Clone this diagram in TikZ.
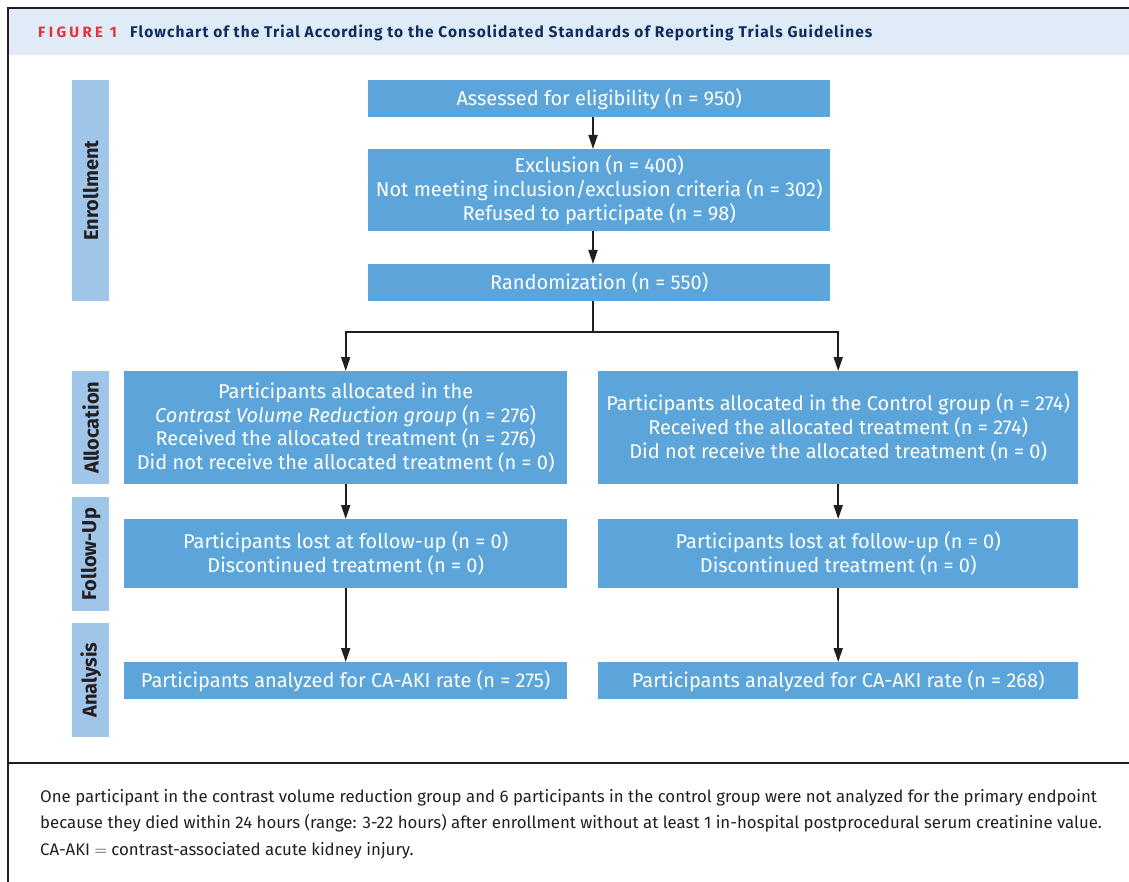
\documentclass[tikz,border=0pt]{standalone}
\usepackage{fontspec}
\setmainfont{Fira Sans}
\usetikzlibrary{arrows.meta}
\definecolor{boxblue}{HTML}{5BA5DA}
\definecolor{sideblue}{HTML}{9FC5E8}
\definecolor{headblue}{HTML}{DFEBF6}
\definecolor{navy}{HTML}{0E2D5E}
\definecolor{figred}{HTML}{E8303A}
\definecolor{ink}{HTML}{231F20}
\tikzset{
  box/.style={fill=boxblue, text=white, inner sep=0pt, anchor=north west, align=center,
    font=\fontsize{20}{23.8}\selectfont},
  side/.style={fill=sideblue, inner sep=0pt, anchor=north west, minimum width=37},
  sidetext/.style={rotate=90, text=ink, font=\fontsize{20}{22}\selectfont\bfseries},
  arr/.style={draw=ink, line width=1.8pt, -{Triangle[length=14pt,width=9pt]}},
  conn/.style={draw=ink, line width=1.8pt},
  frame/.style={draw=ink, line width=2pt},
  notetext/.style={anchor=base west, inner sep=0, text=ink, font=\fontsize{16.8}{20}\selectfont}
}
\begin{document}
\begin{tikzpicture}[x=1pt,y=-1pt]
\useasboundingbox (0,0) rectangle (1129,882);
% header
\fill[headblue] (9,9) rectangle (1129,55);
\draw[frame] (1135,8) -- (8,8) -- (8,890);
\draw[frame] (8,763) -- (1135,763);
\node[anchor=base west, inner sep=0, text=figred, font=\fontsize{15}{17}\selectfont\bfseries\addfontfeatures{LetterSpace=22}] (fig) at (38,38) {FIGURE 1};
\node[anchor=base west, inner sep=0, text=navy, font=\fontsize{15.5}{18}\selectfont\bfseries\addfontfeatures{LetterSpace=7}] (title) at (130,38) {Flowchart of the Trial According to the Consolidated Standards of Reporting Trials Guidelines};
% side labels
\node[side, minimum height=221] (enr) at (72,80) {};
\node[sidetext] (enrT) at (enr.center) {Enrollment};
\node[side, minimum height=113] (all) at (72,371) {};
\node[sidetext] (allT) at (all.center) {Allocation};
\node[side, minimum height=114] (fol) at (72,497) {};
\node[sidetext] (folT) at (fol.center) {Follow-Up};
\node[side, minimum height=114] (ana) at (72,623) {};
\node[sidetext] (anaT) at (ana.center) {Analysis};
% boxes
\node[box, minimum width=462, minimum height=37] (assess) at (368,80) {Assessed for eligibility (n = 950)};
\node[box, minimum width=462, minimum height=82] (excl) at (368,149) {Exclusion (n = 400)\\Not meeting inclusion/exclusion criteria (n = 302)\\Refused to participate (n = 98)};
\node[box, minimum width=462, minimum height=37] (rand) at (368,264) {Randomization (n = 550)};
\node[box, minimum width=443, minimum height=113] (allocL) at (124,371) {Participants allocated in the\\\textit{Contrast Volume Reduction group} (n = 276)\\Received the allocated treatment (n = 276)\\Did not receive the allocated treatment (n = 0)};
\node[box, minimum width=480, minimum height=113] (allocR) at (598,371) {Participants allocated in the Control group (n = 274)\\Received the allocated treatment (n = 274)\\Did not receive the allocated treatment (n = 0)};
\node[box, minimum width=443, minimum height=69] (folL) at (124,519) {Participants lost at follow-up (n = 0)\\Discontinued treatment (n = 0)};
\node[box, minimum width=480, minimum height=69] (folR) at (598,519) {Participants lost at follow-up (n = 0)\\Discontinued treatment (n = 0)};
\node[box, minimum width=443, minimum height=37] (anaL) at (124,662) {Participants analyzed for CA-AKI rate (n = 275)};
\node[box, minimum width=480, minimum height=37] (anaR) at (598,662) {Participants analyzed for CA-AKI rate (n = 268)};
% connectors
\coordinate (mx) at (593,0);
\coordinate (split) at (593,332);
\draw[arr] (assess.south -| mx) -- (excl.north -| mx);
\draw[arr] (excl.south -| mx) -- (rand.north -| mx);
\draw[conn] (rand.south -| mx) -- (split);
\draw[arr] (split) -| (allocL.north);
\draw[arr] (split) -| (allocR.north);
\draw[arr] (allocL) -- (folL);
\draw[arr] (allocR) -- (folR);
\draw[arr] (folL) -- (anaL);
\draw[arr] (folR) -- (anaR);
% footer
\node[notetext] (note1) at (40,802) {One participant in the contrast volume reduction group and 6 participants in the control group were not analyzed for the primary endpoint};
\node[notetext] (note2) at (40,828.5) {because they died within 24 hours (range: 3-22 hours) after enrollment without at least 1 in-hospital postprocedural serum creatinine value.};
\node[notetext] (note3) at (40,855) {CA-AKI $=$ contrast-associated acute kidney injury.};
\end{tikzpicture}
\end{document}
